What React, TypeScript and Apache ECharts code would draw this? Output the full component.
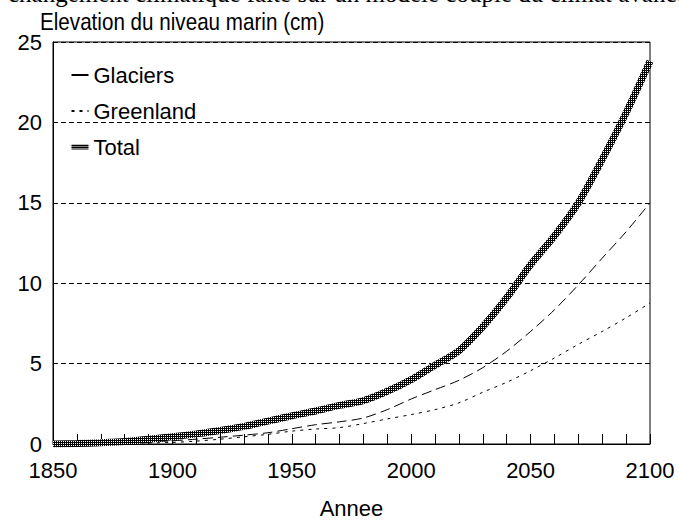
import React, { useEffect, useRef } from "react";
import * as echarts from "echarts";

const years = [1850, 1860, 1870, 1880, 1890, 1900, 1910, 1920, 1930, 1940, 1950, 1960, 1970, 1980, 1990, 2000, 2010, 2020, 2030, 2040, 2050, 2060, 2070, 2080, 2090, 2100];
const total = [0, 0.03, 0.08, 0.15, 0.3, 0.45, 0.63, 0.84, 1.1, 1.42, 1.75, 2.05, 2.4, 2.7, 3.28, 4.0, 4.9, 5.8, 7.3, 9.1, 11.15, 12.95, 15.0, 17.7, 20.6, 23.8];
const glaciers = [0, 0.01, 0.03, 0.06, 0.12, 0.2, 0.3, 0.42, 0.55, 0.7, 0.95, 1.2, 1.38, 1.62, 2.14, 2.8, 3.38, 3.96, 4.75, 5.77, 7.0, 8.35, 9.9, 11.56, 13.2, 15.0];
const greenland = [0, 0.01, 0.02, 0.04, 0.07, 0.1, 0.18, 0.3, 0.45, 0.6, 0.8, 0.93, 1.02, 1.27, 1.56, 1.83, 2.14, 2.56, 3.22, 3.84, 4.56, 5.35, 6.2, 7.0, 7.85, 8.77];

const titleText = "Elevation du niveau marin (cm)";
const xName = "Annee";
const topCutText = "changement climatique faite sur un modele couple du climat avance";

export default function App() {
  const ref = useRef<HTMLDivElement>(null);
  useEffect(() => {
    const chart = echarts.init(ref.current!, null, { renderer: "svg" });
    const cv = document.createElement("canvas");
    cv.width = 2;
    cv.height = 2;
    const ctx = cv.getContext("2d")!;
    ctx.fillStyle = "#000";
    ctx.fillRect(0, 0, 2, 2);
    ctx.fillStyle = "#fff";
    ctx.fillRect(1, 1, 1, 1);
    const pattern: any = { image: cv, repeat: "repeat" };
    const font = "'Liberation Sans', Arial, sans-serif";

    const option: any = {
      animation: false,
      textStyle: { fontFamily: font, color: "#000" },
      grid: {
        left: 53,
        top: 42,
        width: 597,
        height: 402,
        show: true,
        borderColor: "#000",
        borderWidth: 1,
        backgroundColor: "transparent",
        containLabel: false,
        outerBoundsMode: "none",
      },
      xAxis: {
        type: "value",
        min: 1850,
        max: 2100,
        interval: 50,
        name: xName,
        nameLocation: "middle",
        nameGap: 53,
        nameTextStyle: { fontSize: 22, color: "#000", fontFamily: font, lineHeight: 22 },
        axisLine: { show: true, lineStyle: { color: "#000", width: 1 } },
        axisTick: { show: true, inside: true, length: 10, lineStyle: { color: "#000", width: 1 } },
        minorTick: { show: true, splitNumber: 5, length: 10, lineStyle: { color: "#000", width: 1 } },
        axisLabel: {
          fontSize: 22,
          color: "#000",
          fontFamily: font,
          margin: 15,
          showMinLabel: true,
          showMaxLabel: true,
          formatter: (v: number) => String(v),
        },
        splitLine: { show: false },
      },
      yAxis: {
        type: "value",
        min: 0,
        max: 25,
        interval: 5,
        axisLine: { show: true, lineStyle: { color: "#000", width: 1 } },
        axisTick: { show: false },
        axisLabel: { fontSize: 22, color: "#000", fontFamily: font, margin: 11 },
        splitLine: { show: true, lineStyle: { color: "#000", width: 1, type: [5, 3] } },
      },
      legend: {
        orient: "vertical",
        left: 69,
        top: 64,
        padding: 0,
        itemWidth: 17,
        itemHeight: 12,
        itemGap: 14,
        textStyle: { fontSize: 22, color: "#000", fontFamily: font, lineHeight: 22 },
        itemStyle: { color: "transparent", borderWidth: 0, opacity: 0 },
        data: [
          { name: "Glaciers", lineStyle: { type: "solid" } },
          { name: "Greenland" },
          { name: "Total", lineStyle: { width: 5 } },
        ],
      },
      graphic: [
        {
          type: "text",
          x: 8,
          y: -7,
          silent: true,
          style: {
            text: topCutText,
            font: "25px 'Liberation Serif', 'Times New Roman', serif",
            fill: "#000",
            verticalAlign: "middle",
            align: "left",
          },
        },
        {
          type: "text",
          x: 40,
          y: 22,
          scaleX: 0.86,
          silent: true,
          style: {
            text: titleText,
            font: "24px 'Liberation Sans', Arial, sans-serif",
            fill: "#000",
            verticalAlign: "middle",
            align: "left",
          },
        },
      ],
      series: [
        {
          name: "Glaciers",
          type: "line",
          data: years.map((y, i) => [y, glaciers[i]]),
          symbol: "none",
          smooth: 0.3,
          itemStyle: { color: "#000" },
          lineStyle: { color: "#000", width: 1, type: [10, 5] },
          z: 2,
        },
        {
          name: "Greenland",
          type: "line",
          data: years.map((y, i) => [y, greenland[i]]),
          symbol: "none",
          smooth: 0.3,
          itemStyle: { color: "#000" },
          lineStyle: { color: "#000", width: 1, type: [3, 5] },
          z: 2,
        },
        {
          name: "Total",
          type: "line",
          data: years.map((y, i) => [y, total[i]]),
          symbol: "none",
          smooth: 0.3,
          itemStyle: { color: "#333" },
          lineStyle: { color: pattern, width: 7 },
          z: 3,
        },
      ],
    };
    chart.setOption(option);
    return () => chart.dispose();
  }, []);
  return (
    <div
      ref={ref}
      style={{ position: "absolute", left: 0, top: 0, width: 679, height: 520, background: "#fff" }}
    />
  );
}
